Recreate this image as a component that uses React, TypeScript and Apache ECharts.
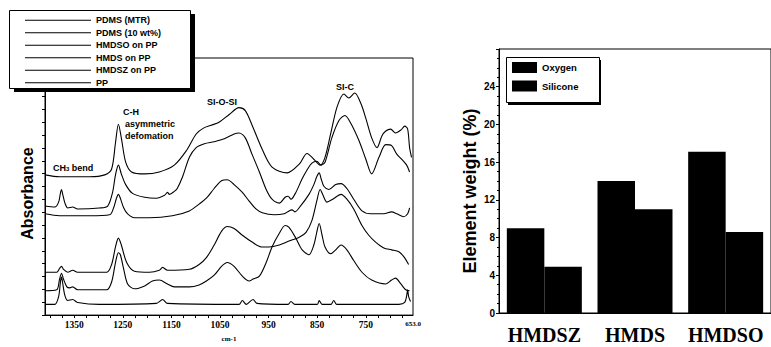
import { useEffect, useRef } from 'react';
import * as echarts from 'echarts';

// ---- IR spectra (wavenumber cm-1, offset absorbance a.u.) ----
const spectrumNames = ['PDMS (MTR)', 'PDMS (10 wt%)', 'HMDSO on PP', 'HMDS on PP', 'HMDSZ on PP', 'PP'];

const pdmsMtr = [[1410,144],[1380,142],[1318,142],[1287,144],[1273,150],[1265,177],[1259,196],[1253,182],[1244,157],[1232,147],[1205,145],[1175,147],[1144,154],[1119,169],[1099,186],[1084,192],[1068,195],[1052,198],[1031,206],[1011,213],[998,210],[984,195],[963,170],[943,152],[912,146],[887,155],[871,166],[857,160],[844,154],[834,162],[822,187],[809,214],[795,227],[785,223],[773,228],[760,217],[750,202],[738,182],[727,172],[717,184],[709,189],[699,191],[689,187],[678,190],[670,194],[664,191],[660,172],[656,162]];

const pdms10 = [[1410,112],[1390,111],[1382,116],[1378,126],[1376,129],[1374,125],[1369,115],[1363,110],[1353,111],[1343,109],[1298,110],[1281,112],[1271,126],[1265,144],[1259,154],[1253,145],[1244,134],[1230,125],[1205,121],[1181,120],[1164,123],[1158,126],[1154,124],[1144,127],[1138,130],[1127,142],[1113,162],[1099,172],[1082,176],[1062,178],[1041,181],[1021,186],[1011,187],[998,182],[984,165],[969,147],[955,129],[943,119],[928,115],[916,121],[910,122],[904,119],[894,126],[881,140],[871,149],[861,156],[851,158],[842,154],[834,157],[820,182],[805,200],[793,205],[781,197],[764,179],[750,160],[738,145],[723,162],[709,175],[697,174],[686,165],[676,160],[666,154],[660,147]];

const hmdso = [[1410,104],[1380,102],[1318,102],[1277,103],[1269,110],[1263,120],[1259,124],[1255,120],[1248,110],[1240,104],[1226,100],[1195,100],[1148,102],[1113,107],[1093,114],[1078,120],[1062,130],[1047,138],[1035,139],[1021,134],[1004,126],[990,117],[976,109],[963,105],[939,103],[918,104],[908,107],[902,108],[896,106],[883,113],[867,124],[857,134],[851,142],[846,146],[842,140],[836,132],[826,129],[812,134],[801,135],[789,130],[775,119],[758,107],[740,104],[713,104],[697,106],[686,104],[672,101],[664,104],[660,110]];

const hmds = [[1410,44],[1386,44],[1380,48],[1376,50],[1372,47],[1363,44],[1353,46],[1343,44],[1283,44],[1273,52],[1265,70],[1259,79],[1253,72],[1242,54],[1226,45],[1195,44],[1175,46],[1168,49],[1158,46],[1113,47],[1093,52],[1078,59],[1062,72],[1047,86],[1035,91],[1021,89],[1004,82],[984,75],[965,70],[949,70],[928,72],[908,76],[887,80],[873,85],[861,97],[851,117],[844,129],[838,123],[830,116],[818,119],[801,124],[789,119],[775,109],[758,92],[744,82],[730,75],[713,69],[697,67],[682,65],[672,60],[662,52]];

const hmdsz = [[1410,25],[1386,26],[1380,37],[1376,43],[1372,37],[1365,29],[1359,28],[1353,29],[1343,26],[1283,26],[1273,34],[1265,54],[1259,64],[1255,62],[1248,47],[1240,32],[1226,27],[1205,30],[1189,35],[1175,36],[1158,32],[1144,29],[1113,29],[1093,31],[1078,35],[1062,41],[1047,50],[1035,54],[1021,50],[1004,40],[990,35],[982,37],[969,40],[955,54],[943,70],[928,84],[916,92],[908,90],[894,79],[881,67],[867,62],[857,72],[851,85],[846,94],[840,82],[834,70],[822,63],[812,67],[801,72],[789,67],[775,56],[758,44],[738,36],[709,32],[697,36],[689,38],[678,32],[668,26],[660,25]];

const pp = [[1410,11],[1390,11],[1382,19],[1378,35],[1376,39],[1374,34],[1369,20],[1363,15],[1353,16],[1343,13],[1298,11],[1181,12],[1168,16],[1158,12],[1011,11],[1004,15],[996,11],[982,16],[974,12],[910,11],[904,14],[896,11],[850,11],[846,15],[840,11],[822,11],[816,15],[810,11],[682,11],[670,13],[666,20],[664,26],[662,19],[658,14]];

const spectra = [pdmsMtr, pdms10, hmdso, hmds, hmdsz, pp];
const wavenumberLabels = [1350, 1250, 1150, 1050, 950, 850, 750, 653];
const wavenumberMinorTicks = [675, 700, 725, 750, 775, 800, 825, 850, 875, 900, 925, 950, 975, 1000, 1025, 1050, 1075, 1100, 1125, 1150, 1175, 1200, 1225, 1250, 1275, 1300, 1325, 1350, 1375, 1400];

// ---- Element weight bar chart ----
const barCategories = ['HMDSZ', 'HMDS', 'HMDSO'];
const oxygen = [9.0, 14.0, 17.1];
const silicone = [4.9, 11.0, 8.6];

const SANS = 'Liberation Sans, Arial, sans-serif';
const SERIF = 'Liberation Serif, Times New Roman, serif';

export default function App() {
  const ref = useRef<HTMLDivElement>(null);
  useEffect(() => {
    if (!ref.current) return;
    const chart = echarts.init(ref.current, null, { renderer: 'svg' });
    const lineSeries = spectrumNames.map((name, i) => ({
      name,
      type: 'line',
      xAxisIndex: 0,
      yAxisIndex: 0,
      data: spectra[i],
      symbol: 'none',
      smooth: 0.3,
      silent: true,
      lineStyle: { color: '#000', width: 1.1 },
      itemStyle: { color: '#000' },
    }));
    const annot = (text: string, left: number, top: number, rich?: any) => ({
      type: 'text', left, top, z: 100,
      style: { text, fill: '#000', font: `bold 9px ${SANS}`, rich },
    });
    const box = (x: number, y: number, w: number, h: number, dx: number, dy: number) => [
      { type: 'rect', z: 5, silent: true, shape: { x: x + dx, y: y + dy, width: w, height: h }, style: { fill: '#000' } },
      { type: 'rect', z: 6, silent: true, shape: { x: x + 0.5, y: y + 0.5, width: w, height: h }, style: { fill: '#fff', stroke: '#000', lineWidth: 1 } },
    ];
    chart.setOption({
      animation: false,
      backgroundColor: '#fff',
      grid: [
        { left: 45, top: 58, width: 368, height: 264, show: true, borderColor: '#000', borderWidth: 1 },
        { left: 499, top: 49, width: 273, height: 264, show: true, borderColor: '#000', borderWidth: 1 },
      ],
      legend: [
        {
          data: spectrumNames, orient: 'vertical', left: 9, top: 10, icon: 'rect', z: 20,
          itemWidth: 66, itemHeight: 1, itemGap: 0, padding: [4, 28, 0, 16],
          selectedMode: false,
          textStyle: { fontSize: 9, fontWeight: 'bold', fontFamily: SANS, color: '#000', lineHeight: 12.5 },
        },
        {
          data: ['Oxygen', 'Silicone'], orient: 'vertical', left: 506, top: 57, icon: 'rect', z: 20,
          itemWidth: 25, itemHeight: 11, itemGap: 7.5, padding: [5, 15, 10, 6],
          selectedMode: false,
          textStyle: { fontSize: 9.5, fontWeight: 'bold', fontFamily: SANS, color: '#000' },
        },
      ],
      xAxis: [
        {
          gridIndex: 0, type: 'value', min: 653, max: 1410, inverse: true,
          axisLine: { show: true, onZero: false, lineStyle: { color: '#000', width: 1 } },
          axisTick: { show: true, customValues: wavenumberMinorTicks, length: 3, lineStyle: { color: '#000' } },
          axisLabel: {
            customValues: wavenumberLabels,
            formatter: (v: number) => (v === 653 ? '{s|653.0}' : String(v)),
            rich: { s: { fontSize: 7, fontFamily: SERIF, fontWeight: 'bold', color: '#000' } },
            fontFamily: SERIF, fontWeight: 'bold', fontSize: 9.5, color: '#000', margin: 5,
          },
          splitLine: { show: false },
          name: 'cm-1', nameLocation: 'middle', nameGap: 17,
          nameTextStyle: { fontFamily: SERIF, fontWeight: 'bold', fontSize: 7, color: '#000' },
        },
        {
          gridIndex: 1, type: 'category', data: barCategories,
          axisLine: { show: true, lineStyle: { color: '#000' } },
          axisTick: { show: false },
          axisLabel: { interval: 0, fontFamily: SERIF, fontWeight: 'bold', fontSize: 20, color: '#000', margin: 12 },
          splitLine: { show: false },
        },
      ],
      yAxis: [
        {
          gridIndex: 0, type: 'value', min: 0, max: 264, interval: 13.2,
          axisLine: { show: true, lineStyle: { color: '#000' } },
          axisTick: { show: true, length: 3, lineStyle: { color: '#000' } },
          axisLabel: { show: false },
          splitLine: { show: false },
          name: 'Absorbance', nameLocation: 'middle', nameGap: 10,
          nameTextStyle: { fontFamily: SANS, fontWeight: 'bold', fontSize: 16, color: '#000', padding: [0, 14, 0, 0] },
        },
        {
          gridIndex: 1, type: 'value', min: 0, max: 28, interval: 4,
          axisLine: { show: true, lineStyle: { color: '#000' } },
          axisTick: { show: true, length: 3, lineStyle: { color: '#000' } },
          minorTick: { show: true, splitNumber: 4, length: 2, lineStyle: { color: '#000' } },
          axisLabel: {
            formatter: (v: number) => (v === 28 ? '' : String(v)),
            fontFamily: SANS, fontWeight: 'bold', fontSize: 10, color: '#000', margin: 4,
          },
          splitLine: { show: false },
          name: 'Element weight (%)', nameLocation: 'middle', nameGap: 20,
          nameTextStyle: { fontFamily: SANS, fontWeight: 'bold', fontSize: 18, color: '#000', padding: [0, 20, 0, 0] },
        },
      ],
      series: [
        ...lineSeries,
        { name: 'Oxygen', type: 'bar', xAxisIndex: 1, yAxisIndex: 1, data: oxygen, barWidth: 37.5, barGap: '0%', itemStyle: { color: '#000' }, silent: true },
        { name: 'Silicone', type: 'bar', xAxisIndex: 1, yAxisIndex: 1, data: silicone, barWidth: 37.5, barGap: '0%', itemStyle: { color: '#000' }, silent: true },
      ],
      graphic: [
        ...box(9, 10, 181, 78, 5, 4),
        ...box(506, 57, 93, 45, 2, 3),
        annot('{a|CH}{s|3}{a| bend}', 53, 163, {
          a: { font: `bold 9px ${SANS}`, fill: '#000' },
          s: { font: `bold 6px ${SANS}`, fill: '#000', padding: [3, 0, 0, 0] },
        }),
        annot('C-H', 123, 107),
        annot('asymmetric', 125, 119),
        annot('defomation', 125, 131),
        annot('SI-O-SI', 207, 97),
        annot('SI-C', 336, 82),
      ],
    });
    return () => chart.dispose();
  }, []);
  return <div ref={ref} style={{ position: 'fixed', left: 0, top: 0, width: 771, height: 347, background: '#fff' }} />;
}
